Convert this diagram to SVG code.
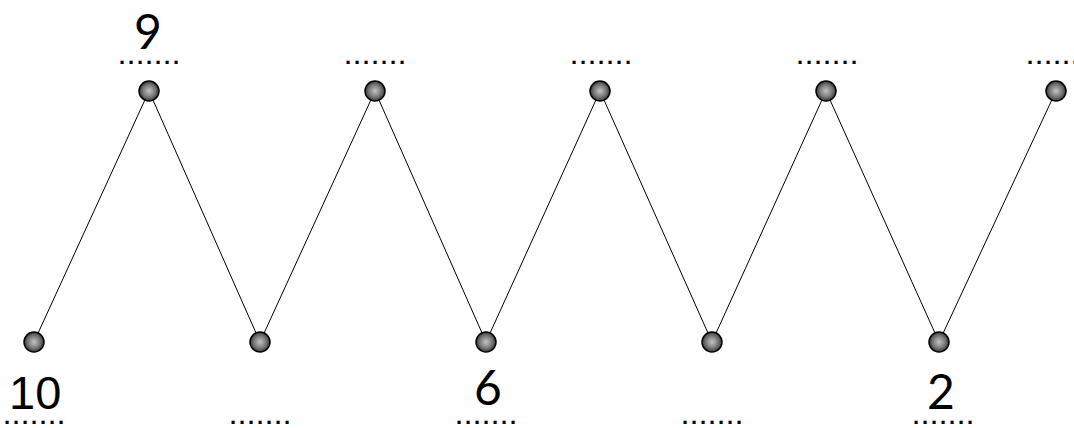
<svg xmlns="http://www.w3.org/2000/svg" width="1074" height="428" viewBox="0 0 1074 428">
<defs>
<radialGradient id="ball" cx="50%" cy="50%" r="50%">
<stop offset="0" stop-color="#c4c4c4"/>
<stop offset="0.6" stop-color="#7a7a7a"/>
<stop offset="1" stop-color="#3a3a3a"/>
</radialGradient>
</defs>
<style>
.node{fill:url(#ball);stroke:#000;stroke-width:1.5}
.edge{stroke:#000;stroke-width:1;fill:none}
.num{font-family:Lato,"Open Sans",sans-serif;font-size:48px;fill:#000}
.num10{font-family:"Liberation Sans",Arial,sans-serif;font-size:47px;fill:#000}
.dots{font-family:"Liberation Sans",Arial,sans-serif;font-size:22px;font-weight:bold;letter-spacing:2.9px;fill:#000}
</style>
<rect width="1074" height="428" fill="#fff"/>
<g id="connectors">
<polyline class="edge" points="34,342 149,91 260,342 375,91 486,342 600,91 712,342 826,91 939,342 1056,91"/>
</g>
<g id="n1"><circle class="node" cx="34" cy="342" r="10"/><text class="num10" x="9" y="409">10</text><text class="dots" x="4" y="424">.......</text></g>
<g id="n2"><circle class="node" cx="149" cy="91" r="10"/><text class="num" x="148" y="49" text-anchor="middle">9</text><text class="dots" x="119" y="64">.......</text></g>
<g id="n3"><circle class="node" cx="260" cy="342" r="10"/><text class="dots" x="230" y="424">.......</text></g>
<g id="n4"><circle class="node" cx="375" cy="91" r="10"/><text class="dots" x="345" y="64">.......</text></g>
<g id="n5"><circle class="node" cx="486" cy="342" r="10"/><text class="num" x="488" y="405" text-anchor="middle">6</text><text class="dots" x="456" y="424">.......</text></g>
<g id="n6"><circle class="node" cx="600" cy="91" r="10"/><text class="dots" x="571" y="64">.......</text></g>
<g id="n7"><circle class="node" cx="712" cy="342" r="10"/><text class="dots" x="682" y="424">.......</text></g>
<g id="n8"><circle class="node" cx="826" cy="91" r="10"/><text class="dots" x="797" y="64">.......</text></g>
<g id="n9"><circle class="node" cx="939" cy="342" r="10"/><text class="num" x="941" y="409" text-anchor="middle">2</text><text class="dots" x="913" y="424">.......</text></g>
<g id="n10"><circle class="node" cx="1056" cy="91" r="10"/><text class="dots" x="1027" y="64">.......</text></g>
</svg>
